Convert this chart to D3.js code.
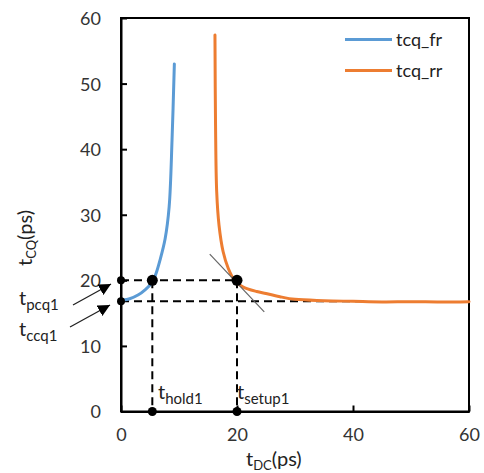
<!DOCTYPE html>
<html><head><meta charset="utf-8">
<script src="https://cdn.jsdelivr.net/npm/d3@7"></script>
<style>body{margin:0;background:#fff;} svg{display:block;font-family:Lato,"Open Sans",sans-serif;}</style>
</head><body>
<svg id="c" width="484" height="473"></svg>
<script>
// ---- data ----
const xTicks = [0, 20, 40, 60];
const yTicks = [0, 10, 20, 30, 40, 50, 60];
const seriesNames = ["tcq_fr", "tcq_rr"];
const frX = [0.3, 1.5, 3.0, 4.2, 5.0, 5.5, 6.1, 6.7, 7.6, 8.3, 8.8, 9.2];
const frY = [17.0, 17.2, 17.8, 18.6, 19.3, 19.9, 21.2, 23.0, 26.3, 31.2, 41.4, 53.0];
const rrX = [16.2, 16.3, 16.5, 16.9, 17.6, 18.5, 19.65, 21, 23.4, 25, 27.4, 30, 35, 40, 45, 50, 55, 60];
const rrY = [57.4, 43.7, 33.5, 28.4, 24.4, 21.8, 19.9, 19.0, 18.3, 18.0, 17.5, 17.1, 16.9, 16.8, 16.7, 16.75, 16.7, 16.75];
const tPcq = 20, tCcq = 16.8, tHold = 5.4, tSetup = 20;
const tangentX = [15.3, 24.7], tangentY = [24.0, 15.2];
const colors = ["#5B9BD5", "#ED7D31"];

// ---- layout ----
const svg = d3.select("#c");
const L = 121, R = 469, T = 18, B = 411.5;
const x = d3.scaleLinear().domain([0, 60]).range([L, R]);
const y = d3.scaleLinear().domain([0, 60]).range([B, T]);

// frame
svg.append("rect").attr("x", L).attr("y", T).attr("width", R - L).attr("height", B - T)
  .attr("fill", "none").attr("stroke", "#000").attr("stroke-width", 2);

// axes
const ax = svg.append("g").attr("transform", `translate(${L},0)`)
  .call(d3.axisLeft(y).tickValues(yTicks).tickSizeInner(-6).tickSizeOuter(0).tickPadding(20));
const bx = svg.append("g").attr("transform", `translate(0,${B})`)
  .call(d3.axisBottom(x).tickValues(xTicks).tickSizeInner(-6).tickSizeOuter(0).tickPadding(20));
[ax, bx].forEach(g => {
  g.select(".domain").attr("stroke", "#000").attr("stroke-width", 2);
  g.selectAll(".tick line").attr("stroke", "#000").attr("stroke-width", 2);
  g.selectAll(".tick text").attr("fill", "#333").style("font-size", "18px").style("font-family", "Lato");
});
ax.selectAll(".tick text").attr("dy", "0.36em");
bx.selectAll(".tick text").attr("dy", "0.5em");

// dashed guides
const dash = "8,5";
const guides = [
  [0, tPcq, tSetup, tPcq],
  [0, tCcq, 42, tCcq],
  [tHold, tPcq, tHold, 0],
  [tSetup, tPcq, tSetup, 0]
];
svg.append("g").selectAll("line").data(guides).join("line")
  .attr("x1", d => x(d[0])).attr("y1", d => y(d[1]))
  .attr("x2", d => x(d[2])).attr("y2", d => y(d[3]))
  .attr("stroke", "#000").attr("stroke-width", 2).attr("stroke-dasharray", dash);

// curves
const line = d3.line().x(d => x(d[0])).y(d => y(d[1])).curve(d3.curveCatmullRom.alpha(0.5));
const fr = frX.map((v, i) => [v, frY[i]]);
const rr = rrX.map((v, i) => [v, rrY[i]]);
[fr, rr].forEach((s, i) => {
  svg.append("path").datum(s).attr("d", line).attr("fill", "none")
    .attr("stroke", colors[i]).attr("stroke-width", 3).attr("stroke-linecap", "round");
});

// tangent
svg.append("line").attr("x1", x(tangentX[0])).attr("y1", y(tangentY[0]))
  .attr("x2", x(tangentX[1])).attr("y2", y(tangentY[1]))
  .attr("stroke", "#666").attr("stroke-width", 1.2);

// dots
const dots = [[0, tPcq, 4], [0, tCcq, 4], [tHold, tPcq, 5.5], [tSetup, tPcq, 5.5], [tHold, 0, 4.5], [tSetup, 0, 4.5]];
svg.append("g").selectAll("circle").data(dots).join("circle")
  .attr("cx", d => x(d[0])).attr("cy", d => y(d[1])).attr("r", d => d[2]).attr("fill", "#000");

// legend
seriesNames.forEach((n, i) => {
  const ly = 39.5 + i * 31;
  svg.append("line").attr("x1", 345).attr("x2", 392).attr("y1", ly).attr("y2", ly)
    .attr("stroke", colors[i]).attr("stroke-width", 3);
  svg.append("text").attr("x", 396).attr("y", ly).attr("dy", "0.35em")
    .style("font-size", "18px").attr("fill", "#222").text(n);
});

// subscript label helper
function sub(xp, yp, main, s, mainSize, subSize, anchor) {
  const t = svg.append("text").attr("x", xp).attr("y", yp).attr("fill", "#222")
    .style("font-size", mainSize + "px").attr("text-anchor", anchor || "start");
  t.append("tspan").text(main);
  t.append("tspan").attr("dy", 5).style("font-size", subSize + "px").text(s);
  return t;
}
sub(158, 399, "t", "hold1", 20, 15);
sub(237, 399, "t", "setup1", 20, 15);
sub(19, 305, "t", "pcq1", 20, 15);
sub(19, 336, "t", "ccq1", 20, 15);

// axis titles
const xt = svg.append("text").attr("x", 246).attr("y", 466).attr("fill", "#222").style("font-size", "20px");
xt.append("tspan").text("t");
xt.append("tspan").attr("dy", 4).style("font-size", "13px").text("DC");
xt.append("tspan").attr("dy", -4).text("(ps)");
const yt = svg.append("text").attr("transform", "translate(32,266) rotate(-90)").attr("fill", "#222").style("font-size", "20px");
yt.append("tspan").text("t");
yt.append("tspan").attr("dy", 4).style("font-size", "13px").text("CQ");
yt.append("tspan").attr("dy", -4).text("(ps)");

// arrows
const defs = svg.append("defs");
defs.append("marker").attr("id", "ah").attr("viewBox", "0 0 10 10").attr("refX", 10).attr("refY", 5)
  .attr("markerWidth", 12).attr("markerHeight", 12).attr("markerUnits", "userSpaceOnUse").attr("orient", "auto")
  .append("path").attr("d", "M0,0 L10,5 L0,10 Z").attr("fill", "#000");
const arrows = [[73, 305, 111, 284], [70, 327, 110, 305]];
svg.append("g").selectAll("line").data(arrows).join("line")
  .attr("x1", d => d[0]).attr("y1", d => d[1]).attr("x2", d => d[2]).attr("y2", d => d[3])
  .attr("stroke", "#222").attr("stroke-width", 1.3).attr("marker-end", "url(#ah)");
</script>
</body></html>
